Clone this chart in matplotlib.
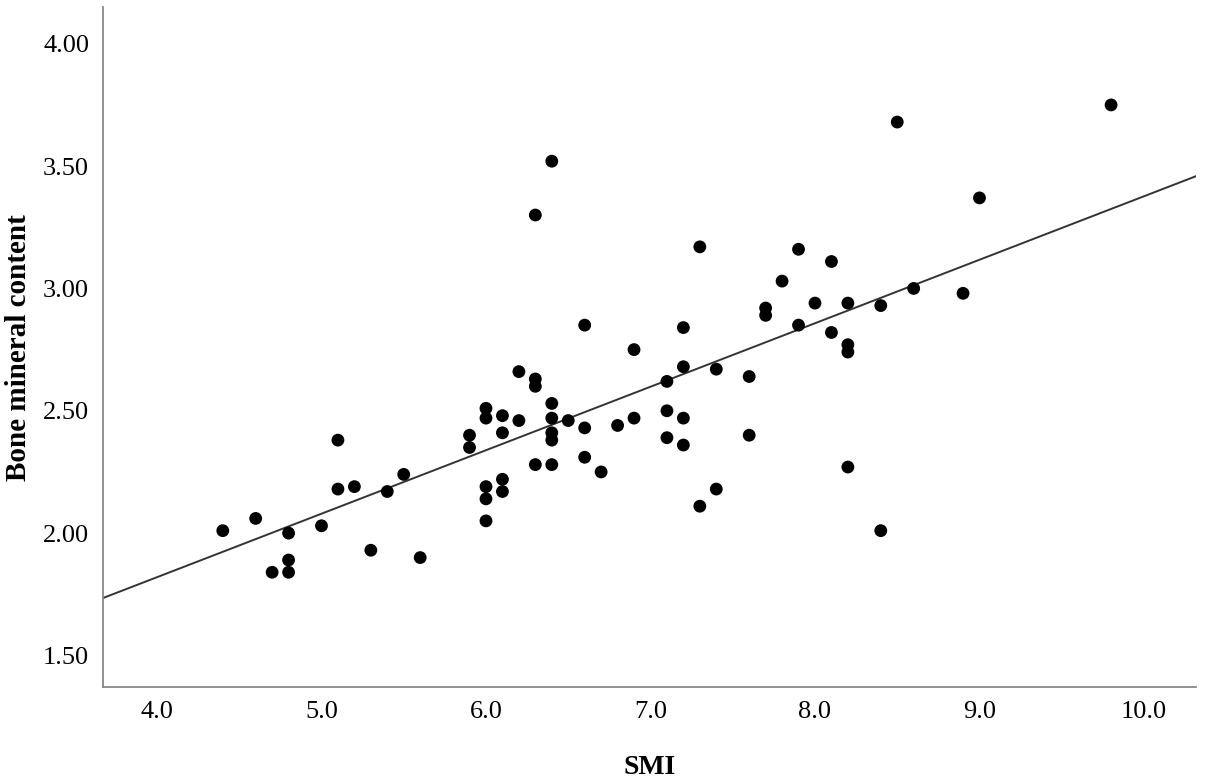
import numpy as np
import matplotlib.pyplot as plt

# SMI (x) and bone mineral content (y)
smi = [4.4, 4.6, 4.7, 4.8, 4.8, 4.8, 5.0, 5.1, 5.1, 5.2, 5.3, 5.4, 5.5, 5.6, 5.9, 5.9,
       6.0, 6.0, 6.0, 6.0, 6.0, 6.1, 6.1, 6.1, 6.1, 6.2, 6.2,
       6.3, 6.3, 6.3, 6.3, 6.4, 6.4, 6.4, 6.4, 6.4, 6.4, 6.5,
       6.6, 6.6, 6.6, 6.7, 6.8, 6.9, 6.9, 7.1, 7.1, 7.1,
       7.2, 7.2, 7.2, 7.2, 7.3, 7.3, 7.4, 7.4, 7.6, 7.6, 7.7, 7.7, 7.8,
       7.9, 7.9, 8.0, 8.1, 8.1, 8.2, 8.2, 8.2, 8.2, 8.4, 8.4,
       8.5, 8.6, 8.9, 9.0, 9.8]
bmc = [2.01, 2.06, 1.84, 2.00, 1.89, 1.84, 2.03, 2.38, 2.18, 2.19, 1.93, 2.17, 2.24, 1.90, 2.40, 2.35,
       2.51, 2.47, 2.19, 2.14, 2.05, 2.48, 2.41, 2.22, 2.17, 2.66, 2.46,
       3.30, 2.63, 2.60, 2.28, 3.52, 2.53, 2.47, 2.41, 2.38, 2.28, 2.46,
       2.85, 2.43, 2.31, 2.25, 2.44, 2.75, 2.47, 2.62, 2.50, 2.39,
       2.84, 2.68, 2.47, 2.36, 3.17, 2.11, 2.67, 2.18, 2.64, 2.40, 2.92, 2.89, 3.03,
       3.16, 2.85, 2.94, 3.11, 2.82, 2.94, 2.77, 2.74, 2.27, 2.93, 2.01,
       3.68, 3.00, 2.98, 3.37, 3.75]

x_ticks = [4.0, 5.0, 6.0, 7.0, 8.0, 9.0, 10.0]
y_ticks = [1.5, 2.0, 2.5, 3.0, 3.5, 4.0]

plt.rcParams['font.family'] = ['Liberation Serif', 'DejaVu Serif']

fig = plt.figure(figsize=(12.05, 7.84), dpi=100)
ax = fig.add_axes([0.0855, 0.1237, 0.907, 0.867])

xlim = (3.672, 10.316)
ylim = (1.371, 4.149)

# linear fit line across the whole x range
slope, icpt = np.polyfit(smi, bmc, 1)
xs = np.array(xlim)
ax.plot(xs, slope * xs + icpt, color='#333333', lw=1.4, zorder=2)

ax.scatter(smi, bmc, s=85, color='black', edgecolors='none', zorder=3)

ax.set_xlim(xlim)
ax.set_ylim(ylim)
ax.set_xticks(x_ticks)
ax.set_xticklabels([f"{v:.1f}" for v in x_ticks])
ax.set_yticks(y_ticks)
ax.set_yticklabels([f"{v:.2f}" for v in y_ticks])
ax.tick_params(length=0, labelsize=19, pad=10)

for side in ['top', 'right']:
    ax.spines[side].set_visible(False)
for side in ['left', 'bottom']:
    ax.spines[side].set_color('#888888')
    ax.spines[side].set_linewidth(1.3)

ax.set_xlabel("SMI", fontsize=20, fontweight='bold', labelpad=23)
ax.set_ylabel("Bone mineral content", fontsize=21, fontweight='bold', labelpad=8)

fig.savefig("out.png", dpi=100)
